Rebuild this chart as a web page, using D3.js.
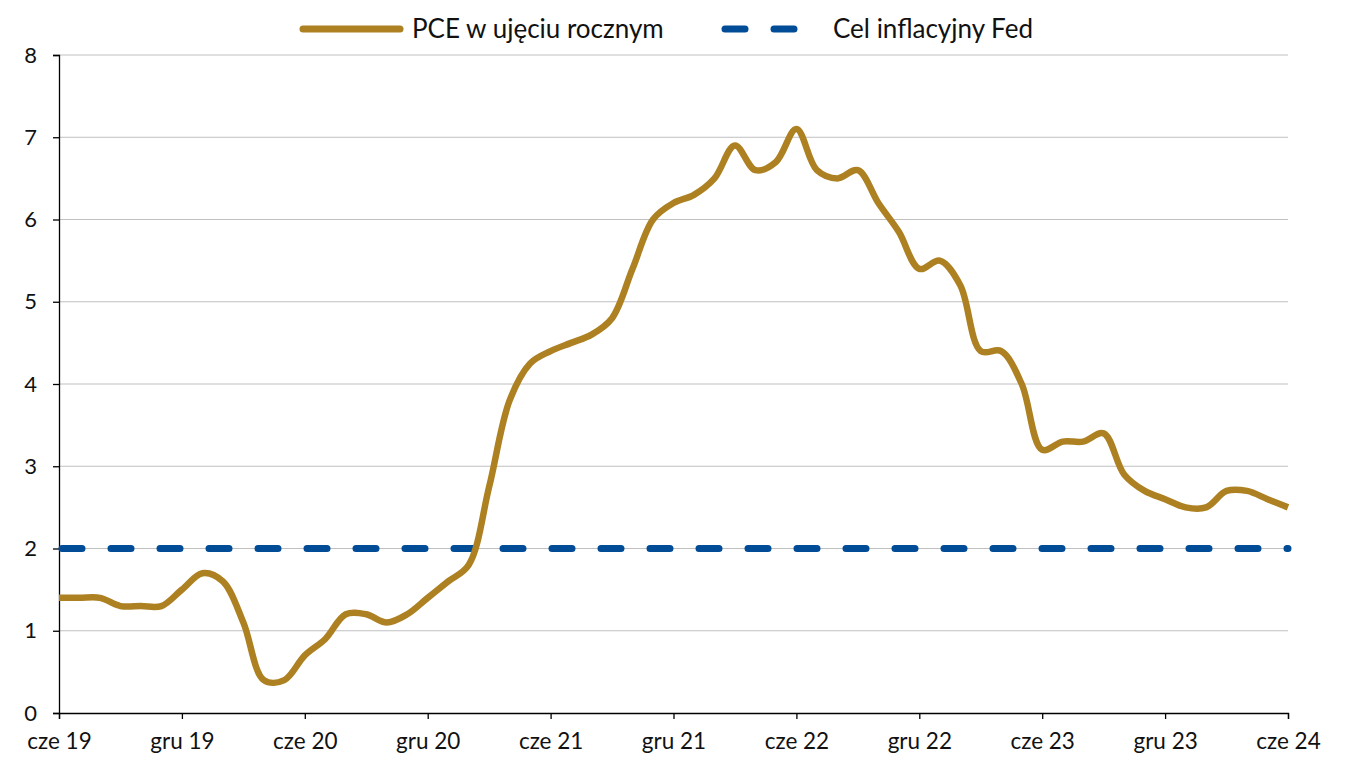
<!DOCTYPE html>
<html>
<head>
<meta charset="utf-8">
<script src="https://cdn.jsdelivr.net/npm/d3@7"></script>
<style>
  body { margin: 0; background: #fff; }
  svg { display: block; font-family: Lato, "Open Sans", sans-serif; }
</style>
</head>
<body>
<svg id="chart" width="1348" height="776"></svg>
<script>
// months Jun 2019 .. Jun 2024
const months = d3.range(61).map(i => new Date(2019, 5 + i, 1));
const pce = [
  1.4, 1.4, 1.4, 1.3, 1.3, 1.3, 1.5, 1.7, 1.6, 1.1, 0.4, 0.4,
  0.7, 0.9, 1.2, 1.2, 1.1, 1.2, 1.4, 1.6, 1.8, 2.75, 3.8, 4.25,
  4.4, 4.5, 4.6, 4.8, 5.4, 6.0, 6.2, 6.3, 6.5, 6.9, 6.6, 6.7,
  7.1, 6.6, 6.5, 6.6, 6.2, 5.85, 5.4, 5.5, 5.2, 4.4, 4.4, 4.0,
  3.2, 3.3, 3.3, 3.4, 2.9, 2.7, 2.6, 2.5, 2.5, 2.7, 2.7, 2.6, 2.5
];
const fedTarget = 2;
const yTicks = [0, 1, 2, 3, 4, 5, 6, 7, 8];
const xTickLabels = ["cze 19", "gru 19", "cze 20", "gru 20", "cze 21", "gru 21", "cze 22", "gru 22", "cze 23", "gru 23", "cze 24"];
const seriesNames = ["PCE w ujęciu rocznym", "Cel inflacyjny Fed"];
const colors = ["#AD8122", "#004C97"];

(function () {
const svg = d3.select("#chart");
const mLeft = 59, mRight = 1288, mTop = 55, mBottom = 713;

const x = d3.scaleLinear().domain([0, 60]).range([mLeft, mRight]);
const y = d3.scaleLinear().domain([0, 8]).range([mBottom, mTop]);

// gridlines
svg.append("g").selectAll("line").data(yTicks.filter(d => d > 0)).join("line")
  .attr("x1", mLeft).attr("x2", mRight)
  .attr("y1", d => y(d)).attr("y2", d => y(d))
  .attr("stroke", "#c0c0c0").attr("stroke-width", 1);

// y axis
const yAxis = svg.append("g").attr("transform", `translate(${mLeft},0)`)
  .call(d3.axisLeft(y).tickValues(yTicks).tickSize(6).tickPadding(16).tickFormat(d3.format("d")));
yAxis.select(".domain").attr("stroke", "#000").attr("stroke-width", 1.3);
yAxis.selectAll(".tick line").attr("stroke", "#000").attr("stroke-width", 1.3);
yAxis.selectAll("text").attr("font-size", 22).attr("fill", "#111").attr("font-family", "Lato, sans-serif");

// x axis
const xAxis = svg.append("g").attr("transform", `translate(0,${mBottom})`)
  .call(d3.axisBottom(x).tickValues(d3.range(0, 61, 6)).tickSize(6).tickPadding(14)
    .tickFormat((d, i) => xTickLabels[i]));
xAxis.select(".domain").attr("stroke", "#000").attr("stroke-width", 1.3);
xAxis.selectAll(".tick line").attr("stroke", "#000").attr("stroke-width", 1.3);
xAxis.selectAll("text").attr("font-size", 22.5).attr("fill", "#111").attr("font-family", "Lato, sans-serif");

// fed target dashed line
svg.append("line")
  .attr("x1", x(0) + 3).attr("x2", mRight)
  .attr("y1", y(fedTarget)).attr("y2", y(fedTarget))
  .attr("stroke", colors[1]).attr("stroke-width", 7)
  .attr("stroke-linecap", "round")
  .attr("stroke-dasharray", "20,29");

// PCE line
const line = d3.line()
  .x((d, i) => x(i))
  .y(d => y(d))
  .curve(d3.curveCatmullRom.alpha(0.5));
svg.append("path").datum(pce)
  .attr("d", line)
  .attr("fill", "none")
  .attr("stroke", colors[0])
  .attr("stroke-width", 6.5)
  .attr("stroke-linejoin", "round");

// legend
const lg = svg.append("g");
lg.append("line").attr("x1", 303).attr("x2", 400).attr("y1", 29).attr("y2", 29)
  .attr("stroke", colors[0]).attr("stroke-width", 7).attr("stroke-linecap", "round");
lg.append("text").attr("x", 412).attr("y", 37.5).attr("font-size", 26).attr("fill", "#111")
  .text(seriesNames[0]);
lg.append("line").attr("x1", 725).attr("x2", 797).attr("y1", 29).attr("y2", 29)
  .attr("stroke", colors[1]).attr("stroke-width", 7).attr("stroke-linecap", "round")
  .attr("stroke-dasharray", "20,29");
lg.append("text").attr("x", 833).attr("y", 37.5).attr("font-size", 26).attr("fill", "#111")
  .text(seriesNames[1]);
})();
</script>
</body>
</html>
